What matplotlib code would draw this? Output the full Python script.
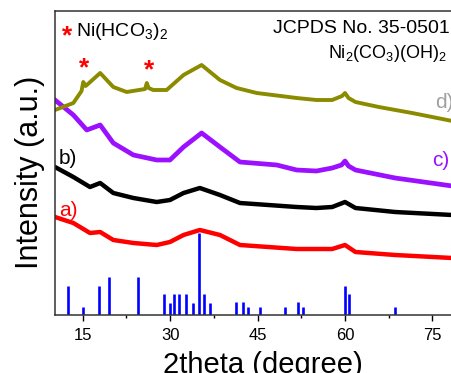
import numpy as np
from matplotlib import pyplot as plt

plt.rcParams['font.family'] = ['Liberation Sans', 'DejaVu Sans']
plt.rcParams['mathtext.fontset'] = 'custom'
plt.rcParams['mathtext.rm'] = 'Liberation Sans'
plt.rcParams['mathtext.it'] = 'Liberation Sans:italic'

# curve a) red
a_x = [10.25, 13.4, 16.25, 18.0, 20.25, 23.7, 27.7, 29.97, 32.3, 35.1, 38.55, 41.98, 51.7, 55.1, 57.8, 60.0, 61.8, 68.6, 78.4]
a_y = [98, 92, 82, 83, 75, 72, 70, 73, 80, 85, 80, 70, 66, 66, 66, 70, 63, 60, 57]
# curve b) black
b_x = [10.25, 13.4, 16.25, 18.0, 20.25, 23.7, 27.7, 29.97, 32.3, 35.1, 38.55, 41.98, 51.7, 55.1, 57.8, 60.0, 61.8, 68.6, 78.4]
b_y = [148, 138, 128, 132, 122, 117, 113, 115, 122, 127, 120, 112, 108, 107, 108, 113, 107, 103, 100]
# curve c) purple
c_x = [10.25, 13.4, 15.7, 18.0, 20.25, 23.7, 27.7, 29.97, 32.3, 35.4, 38.55, 41.98, 48.3, 51.7, 55.1, 57.8, 59.4,
       60.0, 60.6, 61.8, 68.6, 78.4]
c_y = [215, 200, 185, 190, 172, 160, 155, 155, 168, 182, 168, 153, 150, 145, 144, 147, 150,
       154, 149, 145, 137, 129]
# curve d) olive
d_x = [10.25, 13.4, 14.8, 15.1, 15.5, 15.9, 18.0, 20.25, 22.55, 25.7, 26.0, 26.3, 27.1, 29.4, 32.3, 35.4, 38.55,
       41.4, 44.85, 51.7, 55.1, 57.8, 59.5, 60.0, 60.6, 61.8, 65.8, 71.5, 78.4]
d_y = [205, 212, 224, 233, 229, 231, 242, 228, 223, 226, 232, 227, 225, 225, 240, 250, 235,
       227, 222, 217, 215, 215, 219, 222, 217, 213, 208, 202, 194]

# JCPDS 35-0501 sticks
ref_pos = [12.4, 15.0, 17.85, 19.5, 24.5, 29.0, 30.0, 30.66, 31.5, 32.8, 34.0, 35.0, 35.8, 36.85,
           41.3, 42.55, 43.3, 45.5, 49.75, 52.0, 52.8, 60.0, 60.7, 68.6]
ref_int = [29, 8, 29, 38, 38, 21, 12, 21, 21, 21, 12, 82, 21, 12,
           12.7, 12.7, 8, 8, 8, 12.7, 8, 29, 21, 8]

fig = plt.figure(figsize=(4.52, 3.73), dpi=100)
ax = fig.add_axes([55/452, 58/373, 406.6/452, 304/373])

ax.vlines(ref_pos, 0, ref_int, color='#0000ff', lw=1.9)
ax.plot(a_x, a_y, color='#ff0000', lw=3.2)
ax.plot(b_x, b_y, color='black', lw=3.2)
ax.plot(c_x, c_y, color='#9b10ff', lw=3.4)
ax.plot(d_x, d_y, color='#8b8b00', lw=2.8)

ax.set_xlim(10.25, 80)
ax.set_ylim(0, 304)
ax.set_xticks([15, 30, 45, 60, 75])
ax.set_xticks([22.5, 37.5, 52.5, 67.5], minor=True)
ax.tick_params(axis='x', direction='out', length=4, width=1, labelsize=12, pad=5)
ax.tick_params(axis='x', which='minor', direction='out', length=2, width=1)
ax.set_yticks([])
ax.spines['right'].set_visible(False)
for s in ['left', 'top', 'bottom']:
    ax.spines[s].set_linewidth(1.1)
    ax.spines[s].set_color('#333333')

ax.set_xlabel('2theta (degree)', fontsize=21)
ax.xaxis.set_label_coords((263-55)/406.6, -0.12)
ax.set_ylabel('Intensity (a.u.)', fontsize=22)
ax.yaxis.set_label_coords(-0.025, 0.47)

ax.text(10.9, 105, 'a)', color='#ff0000', fontsize=15, va='center')
ax.text(10.9, 157, 'b)', color='black', fontsize=15, va='center')
ax.text(74.9, 155, 'c)', color='#9b10ff', fontsize=15, va='center')
ax.text(75.4, 212, 'd)', color='#a0a0a0', fontsize=15, va='center')

ax.text(12.35, 279, '*', color='#ff0000', fontsize=19, fontweight='bold', ha='center', va='center')
ax.text(13.85, 279, r'Ni(HCO$_\mathregular{3}$)$_\mathregular{2}$', fontsize=14, va='baseline')
ax.text(15.2, 247, '*', color='#ff0000', fontsize=19, fontweight='bold', ha='center', va='center')
ax.text(26.4, 245, '*', color='#ff0000', fontsize=19, fontweight='bold', ha='center', va='center')

ax.text(78.0, 282, 'JCPDS No. 35-0501', fontsize=14, ha='right', va='baseline')
ax.text(77.5, 257, r'Ni$_\mathregular{2}$(CO$_\mathregular{3}$)(OH)$_\mathregular{2}$', fontsize=13, ha='right', va='baseline')

fig.savefig('out.png', dpi=100)
